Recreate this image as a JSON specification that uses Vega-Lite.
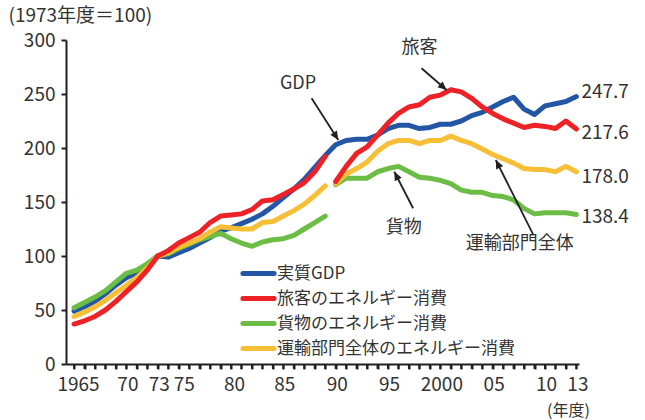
{
  "$schema": "https://vega.github.io/schema/vega-lite/v6.json",
  "width": 513,
  "height": 324,
  "autosize": {"type": "none"},
  "padding": {"left": 66, "top": 40, "right": 66, "bottom": 56},
  "background": "white",
  "config": {
    "font": "Noto Sans CJK JP",
    "view": {"stroke": null},
    "axis": {"grid": false, "domainColor": "#231F20", "tickColor": "#231F20", "domainWidth": 2, "labelColor": "#333333", "titleColor": "#333333", "titleFontWeight": "normal", "labelFont": "Noto Sans CJK JP", "titleFont": "Noto Sans CJK JP"}
  },
  "datasets": {
    "main": [
      {"year": 1965, "gdp": 49, "pass": 37, "frt": 52, "tot": 44},
      {"year": 1966, "gdp": 53, "pass": 40, "frt": 57, "tot": 48},
      {"year": 1967, "gdp": 58, "pass": 44, "frt": 62, "tot": 53},
      {"year": 1968, "gdp": 65, "pass": 50, "frt": 68, "tot": 59},
      {"year": 1969, "gdp": 73, "pass": 58, "frt": 76, "tot": 66},
      {"year": 1970, "gdp": 80, "pass": 67, "frt": 84, "tot": 73},
      {"year": 1971, "gdp": 84, "pass": 76, "frt": 87, "tot": 80},
      {"year": 1972, "gdp": 92, "pass": 87, "frt": 93, "tot": 89},
      {"year": 1973, "gdp": 100, "pass": 100, "frt": 100, "tot": 100},
      {"year": 1974, "gdp": 99, "pass": 105, "frt": 102, "tot": 103},
      {"year": 1975, "gdp": 103, "pass": 112, "frt": 107, "tot": 108},
      {"year": 1976, "gdp": 107, "pass": 117, "frt": 111, "tot": 112},
      {"year": 1977, "gdp": 112, "pass": 122, "frt": 115, "tot": 116},
      {"year": 1978, "gdp": 117, "pass": 131, "frt": 118, "tot": 122},
      {"year": 1979, "gdp": 123, "pass": 137, "frt": 121, "tot": 127},
      {"year": 1980, "gdp": 126, "pass": 138, "frt": 116, "tot": 126},
      {"year": 1981, "gdp": 130, "pass": 139, "frt": 112, "tot": 125},
      {"year": 1982, "gdp": 134, "pass": 143, "frt": 109, "tot": 125},
      {"year": 1983, "gdp": 139, "pass": 151, "frt": 113, "tot": 131},
      {"year": 1984, "gdp": 146, "pass": 152, "frt": 115, "tot": 132},
      {"year": 1985, "gdp": 154, "pass": 157, "frt": 116, "tot": 137},
      {"year": 1986, "gdp": 162, "pass": 162, "frt": 119, "tot": 142},
      {"year": 1987, "gdp": 171, "pass": 168, "frt": 125, "tot": 148},
      {"year": 1988, "gdp": 182, "pass": 178, "frt": 131, "tot": 156},
      {"year": 1989, "gdp": 193, "pass": 192, "frt": 137, "tot": 165},
      {"year": 1990, "gdp": 203, "pass": 169, "frt": 166, "tot": 167},
      {"year": 1991, "gdp": 207, "pass": 183, "frt": 172, "tot": 176},
      {"year": 1992, "gdp": 208, "pass": 195, "frt": 172, "tot": 181},
      {"year": 1993, "gdp": 208, "pass": 201, "frt": 172, "tot": 187},
      {"year": 1994, "gdp": 212, "pass": 212, "frt": 178, "tot": 197},
      {"year": 1995, "gdp": 218, "pass": 223, "frt": 181, "tot": 204},
      {"year": 1996, "gdp": 221, "pass": 232, "frt": 183, "tot": 207},
      {"year": 1997, "gdp": 221, "pass": 238, "frt": 178, "tot": 207},
      {"year": 1998, "gdp": 218, "pass": 240, "frt": 173, "tot": 204},
      {"year": 1999, "gdp": 219, "pass": 247, "frt": 172, "tot": 207},
      {"year": 2000, "gdp": 222, "pass": 249, "frt": 170, "tot": 207},
      {"year": 2001, "gdp": 222, "pass": 254, "frt": 167, "tot": 211},
      {"year": 2002, "gdp": 225, "pass": 252, "frt": 161, "tot": 207},
      {"year": 2003, "gdp": 230, "pass": 246, "frt": 159, "tot": 204},
      {"year": 2004, "gdp": 233, "pass": 238, "frt": 159, "tot": 199},
      {"year": 2005, "gdp": 238, "pass": 232, "frt": 156, "tot": 194},
      {"year": 2006, "gdp": 243, "pass": 227, "frt": 155, "tot": 190},
      {"year": 2007, "gdp": 247, "pass": 223, "frt": 152, "tot": 186},
      {"year": 2008, "gdp": 236, "pass": 219, "frt": 144, "tot": 181},
      {"year": 2009, "gdp": 231, "pass": 221, "frt": 139, "tot": 180},
      {"year": 2010, "gdp": 239, "pass": 220, "frt": 140, "tot": 180},
      {"year": 2011, "gdp": 241, "pass": 218, "frt": 140, "tot": 178},
      {"year": 2012, "gdp": 243, "pass": 225, "frt": 140, "tot": 183},
      {"year": 2013, "gdp": 247.7, "pass": 217.6, "frt": 138.4, "tot": 178.0}
    ],
    "notes": [
      {"label": "GDP", "x": 1986.4, "y": 259},
      {"label": "旅客", "x": 1998, "y": 292.6},
      {"label": "貨物", "x": 1996.5, "y": 126},
      {"label": "運輸部門全体", "x": 2007.6, "y": 111}
    ],
    "arrows": [
      {"x1": 1987.7, "y1": 246, "x2": 1990.25, "y2": 207.4},
      {"x1": 1998.2, "y1": 273.8, "x2": 2000.6, "y2": 253.7},
      {"x1": 1997.4, "y1": 144.2, "x2": 1995.6, "y2": 178},
      {"x1": 2008.9, "y1": 119.4, "x2": 2005.3, "y2": 188.9}
    ],
    "ends": [
      {"year": 2013, "text": "247.7", "pos": 252},
      {"year": 2013, "text": "217.6", "pos": 213.6},
      {"year": 2013, "text": "178.0", "pos": 173.4},
      {"year": 2013, "text": "138.4", "pos": 136.4}
    ]
  },
  "layer": [
    {
      "data": {"name": "main"},
      "transform": [
        {"fold": ["gdp", "pass", "frt", "tot"], "as": ["series", "value"]},
        {"calculate": "datum.series == 'gdp' ? 'all' : (datum.year <= 1989 ? 'pre' : 'post')", "as": "seg"},
        {"filter": "datum.series == 'gdp'"}
      ],
      "mark": {"type": "line", "strokeWidth": 5, "strokeCap": "round", "strokeJoin": "round"},
      "encoding": {
        "x": {"field": "year", "type": "quantitative", "scale": {"domain": [1964.23, 2013.25], "nice": false, "zero": false},
          "axis": {"values": [1965,1966,1967,1968,1969,1970,1971,1972,1973,1974,1975,1976,1977,1978,1979,1980,1981,1982,1983,1984,1985,1986,1987,1988,1989,1990,1991,1992,1993,1994,1995,1996,1997,1998,1999,2000,2001,2002,2003,2004,2005,2006,2007,2008,2009,2010,2011,2012,2013],
            "tickCount": 100, "ticks": true, "tickColor": "#231F20",
            "labelExpr": "indexof([1965,2000], datum.value) >= 0 ? toString(datum.value) : (indexof([1970,1973,1975,1980,1985,1990,1995,2005,2010,2013], datum.value) >= 0 ? slice(toString(datum.value), 2) : '')",
            "labelOffset": {"condition": [{"test": "datum.value == 1965", "value": 4}, {"test": "datum.value == 1975", "value": 5}, {"test": "datum.value == 1980", "value": 3}], "value": 1},
            "labelOverlap": false, "labelFontSize": 19, "labelPadding": 6, "tickSize": 5, "tickWidth": 2,
            "title": "(年度)", "titleFontSize": 16, "titleX": 502, "titleY": 46, "titleAlign": "center", "titleBaseline": "middle", "titleAnchor": null}},
        "y": {"field": "value", "type": "quantitative", "scale": {"domain": [0, 300], "nice": false},
          "axis": {"values": [0, 50, 100, 150, 200, 250, 300], "labelFontSize": 19, "labelPadding": 6, "tickSize": 5, "tickWidth": 2,
            "title": "(1973年度＝100)", "titleFontSize": 19, "titleAngle": 0, "titleAlign": "left", "titleBaseline": "middle", "titleX": -58, "titleY": -25}},
        "color": {"field": "series", "type": "nominal",
          "scale": {"domain": ["gdp", "pass", "frt", "tot"], "range": ["#2456A6", "#EC2227", "#6CBD45", "#F7BF35"]},
          "legend": {"orient": "none", "legendX": 178, "legendY": 219, "title": null,
            "symbolType": "M-1.3,0H1.3", "symbolStrokeWidth": 5, "symbolSize": 576, "symbolFillColor": "transparent",
            "labelFontSize": 17, "labelColor": "#333333", "labelOffset": 4, "rowPadding": 0, "labelLimit": 400,
            "encode": {"symbols": {"update": {"strokeCap": {"value": "round"}}}},
            "labelExpr": "datum.label == 'gdp' ? '実質GDP' : datum.label == 'pass' ? '旅客のエネルギー消費' : datum.label == 'frt' ? '貨物のエネルギー消費' : '運輸部門全体のエネルギー消費'"}},
        "detail": {"field": "seg"}
      }
    },
    {
      "data": {"name": "main"},
      "mark": {"type": "rule", "strokeWidth": 2, "color": "#231F20"},
      "encoding": {
        "x": {"field": "year", "type": "quantitative"},
        "y": {"datum": 0},
        "y2": {"datum": -4.6}
      }
    },
    {
      "data": {"name": "main"},
      "transform": [
        {"fold": ["gdp", "pass", "frt", "tot"], "as": ["series", "value"]},
        {"calculate": "datum.series == 'gdp' ? 'all' : (datum.year <= 1989 ? 'pre' : 'post')", "as": "seg"},
        {"filter": "datum.series == 'frt'"}
      ],
      "mark": {"type": "line", "strokeWidth": 5, "strokeCap": "round", "strokeJoin": "round"},
      "encoding": {
        "x": {"field": "year", "type": "quantitative"},
        "y": {"field": "value", "type": "quantitative"},
        "color": {"field": "series", "type": "nominal"},
        "detail": {"field": "seg"}
      }
    },
    {
      "data": {"name": "main"},
      "transform": [
        {"fold": ["gdp", "pass", "frt", "tot"], "as": ["series", "value"]},
        {"calculate": "datum.series == 'gdp' ? 'all' : (datum.year <= 1989 ? 'pre' : 'post')", "as": "seg"},
        {"filter": "datum.series == 'tot'"}
      ],
      "mark": {"type": "line", "strokeWidth": 5, "strokeCap": "round", "strokeJoin": "round"},
      "encoding": {
        "x": {"field": "year", "type": "quantitative"},
        "y": {"field": "value", "type": "quantitative"},
        "color": {"field": "series", "type": "nominal"},
        "detail": {"field": "seg"}
      }
    },
    {
      "data": {"name": "main"},
      "transform": [
        {"fold": ["gdp", "pass", "frt", "tot"], "as": ["series", "value"]},
        {"calculate": "datum.series == 'gdp' ? 'all' : (datum.year <= 1989 ? 'pre' : 'post')", "as": "seg"},
        {"filter": "datum.series == 'pass'"}
      ],
      "mark": {"type": "line", "strokeWidth": 5, "strokeCap": "round", "strokeJoin": "round"},
      "encoding": {
        "x": {"field": "year", "type": "quantitative"},
        "y": {"field": "value", "type": "quantitative"},
        "color": {"field": "series", "type": "nominal"},
        "detail": {"field": "seg"}
      }
    },
    {
      "data": {"name": "arrows"},
      "mark": {"type": "rule", "strokeWidth": 1.8, "color": "#231F20"},
      "encoding": {
        "x": {"field": "x1", "type": "quantitative"},
        "y": {"field": "y1", "type": "quantitative"},
        "x2": {"field": "x2"},
        "y2": {"field": "y2"}
      }
    },
    {
      "data": {"name": "arrows"},
      "transform": [
        {"calculate": "atan2((datum.x2 - datum.x1) * 10.465, (datum.y2 - datum.y1) * 1.08) * 180 / PI", "as": "ang"}
      ],
      "mark": {"type": "point", "shape": "M0,0L-0.45,1L0.45,1Z", "filled": true, "size": 300, "color": "#231F20", "opacity": 1},
      "encoding": {
        "x": {"field": "x2", "type": "quantitative"},
        "y": {"field": "y2", "type": "quantitative"},
        "angle": {"field": "ang", "type": "quantitative", "scale": null}
      }
    },
    {
      "data": {"name": "notes"},
      "mark": {"type": "text", "fontSize": 18, "color": "#333333", "align": "center", "baseline": "middle"},
      "encoding": {
        "x": {"field": "x", "type": "quantitative"},
        "y": {"field": "y", "type": "quantitative"},
        "text": {"field": "label"}
      }
    },
    {
      "data": {"name": "ends"},
      "mark": {"type": "text", "fontSize": 19, "color": "#333333", "align": "left", "baseline": "middle", "dx": 5},
      "encoding": {
        "x": {"field": "year", "type": "quantitative"},
        "y": {"field": "pos", "type": "quantitative"},
        "text": {"field": "text"}
      }
    }
  ]
}
